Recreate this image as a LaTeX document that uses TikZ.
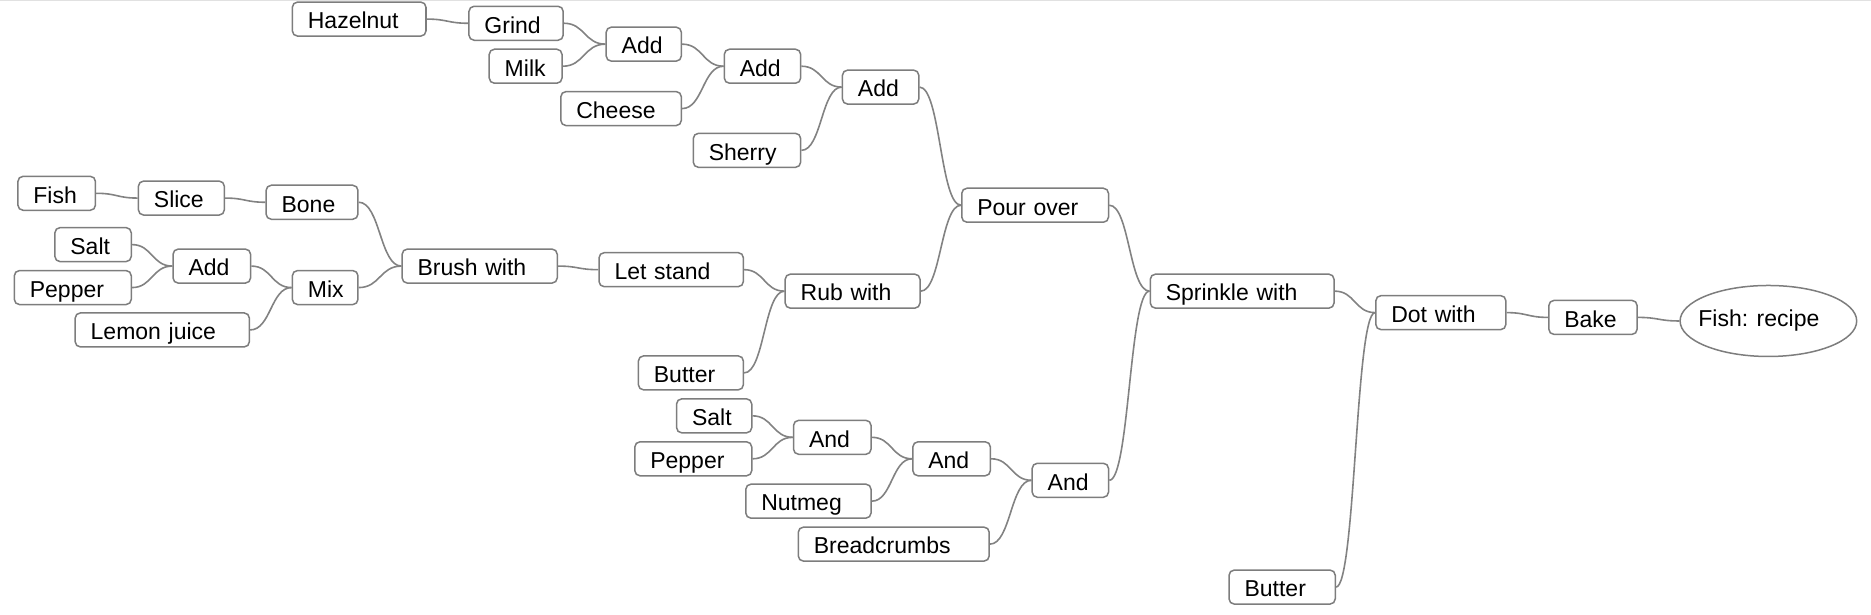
\documentclass[tikz,border=0pt]{standalone}
\usepackage{fontspec}
\setmainfont{Liberation Sans}
\usetikzlibrary{calc,shapes.geometric}
\definecolor{boxgray}{RGB}{125,125,125}
\definecolor{linegray}{RGB}{130,130,130}
\definecolor{topgray}{RGB}{225,225,225}
\tikzset{
  bx/.code={\pgfmathsetlengthmacro\bxlen{(#1-26)*0.5966pt}\pgfkeysalso{/tikz/text width/.expanded=\bxlen}},
  box/.style={draw=boxgray, line width=0.75pt, rounded corners=2.6pt, fill=white,
    minimum height=17pt, inner xsep=7.76pt, inner ysep=0pt, align=left,
    text height=12.2pt, text depth=2.4pt, font=\fontsize{11.5}{13}\selectfont, bx=#1},
  oval/.style={draw=boxgray, line width=0.75pt, ellipse, fill=white, inner sep=0pt,
    minimum width=88.3pt, minimum height=35.5pt, font=\fontsize{11.5}{13}\selectfont},
  conn/.style={draw=linegray, line width=0.8pt,
    to path={let \p1=(\tikztostart), \p2=(\tikztotarget), \n1={(\x2-\x1)/2} in
      .. controls +(\n1,0) and +(-\n1,0) .. (\tikztotarget)}}
}
\begin{document}
\begin{tikzpicture}[x=0.5966pt, y=-0.5966pt]
\useasboundingbox (0,0) rectangle (1568,515);
\draw[topgray, line width=0.6pt] (0,0.6) -- (1568,0.6);
% top branch
\node[box=112] (haz) at (301,16) {Hazelnut};
\node[box=79] (grind) at (432.5,19.5) {Grind};
\node[box=61] (milk) at (440.5,55.5) {Milk};
\node[box=63] (addA) at (539.5,37) {Add};
\node[box=101] (cheese) at (520.5,91) {Cheese};
\node[box=64] (addB) at (639,55.5) {Add};
\node[box=90] (sherry) at (626,126) {Sherry};
\node[box=64] (addC) at (738,73) {Add};
% left branch
\node[box=65] (fish) at (47.5,162) {Fish};
\node[box=72] (slice) at (152,166) {Slice};
\node[box=77] (bone) at (261.5,169.5) {Bone};
\node[box=64] (saltA) at (78,205) {Salt};
\node[box=65] (addL) at (177.5,223) {Add};
\node[box=98] (pepA) at (61,241) {Pepper};
\node[box=55] (mix) at (272.5,241) {Mix};
\node[box=146] (lemon) at (136,276.5) {Lemon juice};
\node[box=130] (brush) at (402,223) {Brush with};
\node[box=121] (letst) at (562.5,226) {Let stand};
\node[box=113] (rub) at (714.5,244) {Rub with};
\node[box=88] (butA) at (579,312.5) {Butter};
\node[box=123] (pour) at (867.5,172) {Pour over};
% lower branch
\node[box=63] (saltB) at (598.5,348.5) {Salt};
\node[box=98] (pepB) at (581,384.5) {Pepper};
\node[box=65] (and1) at (697.5,366.5) {And};
\node[box=105] (nut) at (677.5,420) {Nutmeg};
\node[box=65] (and2) at (797.5,384.5) {And};
\node[box=160] (bread) at (749,456) {Breadcrumbs};
\node[box=64] (and3) at (897,402.5) {And};
% right part
\node[box=154] (sprink) at (1041,244) {Sprinkle with};
\node[box=89] (butB) at (1074.5,492) {Butter};
\node[box=109] (dot) at (1207.5,262) {Dot with};
\node[box=74] (bake) at (1335,266) {Bake};
\node[oval] (fr) at (1482,269) {\hspace*{-9.5pt}\raisebox{-0.6pt}{Fish: recipe}};
% connectors
\draw[conn] (haz.east) to (grind.west);
\draw[conn] (grind.east) to (addA.west);
\draw[conn] (milk.east) to (addA.west);
\draw[conn] (addA.east) to (addB.west);
\draw[conn] (cheese.east) to (addB.west);
\draw[conn] (addB.east) to (addC.west);
\draw[conn] (sherry.east) to (addC.west);
\draw[conn] (addC.east) to (pour.west);
\draw[conn] (fish.east) to (slice.west);
\draw[conn] (slice.east) to (bone.west);
\draw[conn] (bone.east) to (brush.west);
\draw[conn] (saltA.east) to (addL.west);
\draw[conn] (pepA.east) to (addL.west);
\draw[conn] (addL.east) to (mix.west);
\draw[conn] (lemon.east) to (mix.west);
\draw[conn] (mix.east) to (brush.west);
\draw[conn] (brush.east) to (letst.west);
\draw[conn] (letst.east) to (rub.west);
\draw[conn] (butA.east) to (rub.west);
\draw[conn] (rub.east) to (pour.west);
\draw[conn] (pour.east) to (sprink.west);
\draw[conn] (saltB.east) to (and1.west);
\draw[conn] (pepB.east) to (and1.west);
\draw[conn] (and1.east) to (and2.west);
\draw[conn] (nut.east) to (and2.west);
\draw[conn] (and2.east) to (and3.west);
\draw[conn] (bread.east) to (and3.west);
\draw[conn] (and3.east) to (sprink.west);
\draw[conn] (sprink.east) to (dot.west);
\draw[conn] (butB.east) to (dot.west);
\draw[conn] (dot.east) to (bake.west);
\draw[conn] (bake.east) to (fr.west);
\end{tikzpicture}
\end{document}
